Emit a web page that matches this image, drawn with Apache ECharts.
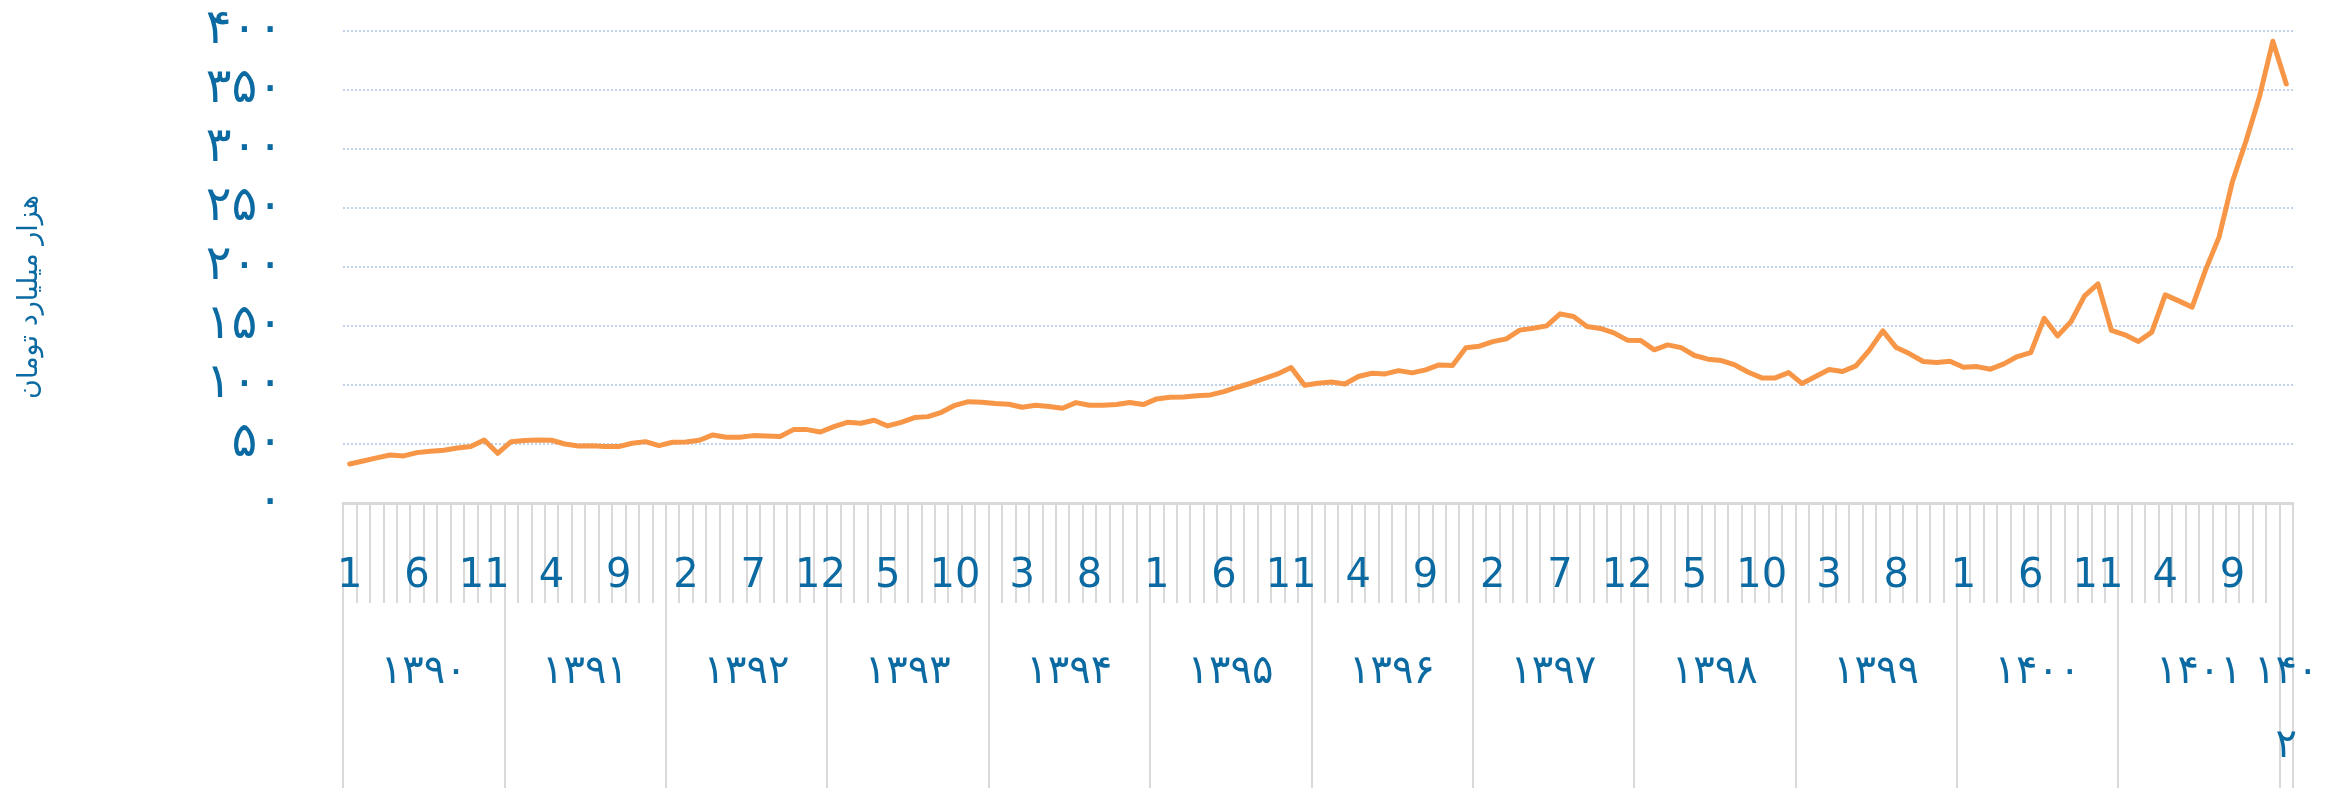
<!doctype html>
<html lang="fa">
<head>
	<meta charset="utf-8" />
	<title>Chart</title>
	<script src="https://cdn.jsdelivr.net/npm/echarts@6.0.0/dist/echarts.min.js"></script>
	<style>
		html, body { margin: 0; padding: 0; background: #fff; }
		#main { width: 2341px; height: 788px; }
	</style>
</head>
<body>
	<div id="main"></div>
	<script>
		// years on the second axis row and how many months each one has in the chart
		var yearLabels = ['۱۳۹۰', '۱۳۹۱', '۱۳۹۲', '۱۳۹۳', '۱۳۹۴', '۱۳۹۵', '۱۳۹۶',
			'۱۳۹۷', '۱۳۹۸', '۱۳۹۹', '۱۴۰۰', '۱۴۰۱', '۱۴۰۲'];
		var monthsPerYear = [12, 12, 12, 12, 12, 12, 12, 12, 12, 12, 12, 12, 1];

		var yTicks = [0, 50, 100, 150, 200, 250, 300, 350, 400];
		var yName = 'هزار میلیارد تومان';

		// monthly values, thousand billion toman
		var y1390 = [33.1, 35.6, 38.2, 40.7, 39.9, 42.7, 43.8, 44.7, 46.6, 47.8, 53.4, 42.1];
		var y1391 = [52.0, 52.9, 53.4, 53.2, 50.0, 48.3, 48.6, 47.8, 47.8, 50.6, 52.0, 48.6];
		var y1392 = [51.5, 51.7, 53.2, 57.7, 55.7, 55.7, 57.1, 56.8, 56.3, 62.2, 62.2, 60.2];
		var y1393 = [64.7, 68.4, 67.6, 70.1, 65.3, 68.4, 72.4, 73.2, 76.9, 82.8, 85.9, 85.4];
		var y1394 = [84.3, 83.7, 81.1, 82.8, 81.7, 80.3, 85.1, 82.8, 82.8, 83.4, 85.1, 83.4];
		var y1395 = [88.2, 89.6, 89.9, 90.8, 91.6, 94.4, 98.1, 101.5, 105.5, 109.4, 114.8, 99.8];
		var y1396 = [101.5, 102.6, 100.9, 107.2, 110.0, 109.4, 112.2, 110.3, 112.8, 117.0, 116.5, 131.5];
		var y1397 = [132.9, 136.8, 139.1, 146.5, 148.1, 150.1, 160.3, 158.0, 149.6, 147.9, 144.2, 138.0];
		var y1398 = [137.7, 129.8, 134.0, 131.7, 125.0, 121.9, 120.7, 117.0, 110.8, 106.0, 106.0, 110.5];
		var y1399 = [101.2, 107.2, 113.1, 111.4, 116.2, 129.5, 145.9, 131.7, 126.4, 119.9, 119.0, 120.2];
		var y1400 = [115.1, 115.6, 113.4, 117.9, 124.1, 127.5, 156.6, 141.6, 153.8, 175.6, 185.7, 146.2];
		var y1401 = [142.5, 136.8, 144.8, 176.4, 171.3, 166.0, 197.6, 225.3, 272.5, 306.5, 344.1, 391.3];
		var y1402 = [355.1];

		var values = [].concat(y1390, y1391, y1392, y1393, y1394, y1395, y1396,
			y1397, y1398, y1399, y1400, y1401, y1402);

		var blue = '#0b6aa2';
		var gray = '#d9d9d9';

		function toPersian(s) {
			return String(s).replace(/[0-9]/g, function (d) {
				return '۰۱۲۳۴۵۶۷۸۹'[+d];
			});
		}

		// month categories and year boundaries / centres
		var months = [];
		var yearEdges = [0];
		var yearCenters = [];
		var pos = 0;
		monthsPerYear.forEach(function (n) {
			for (var m = 1; m <= n; m++) months.push(String(m));
			yearCenters.push(pos + n / 2);
			pos += n;
			yearEdges.push(pos);
		});

		var chart = echarts.init(document.getElementById('main'));
		chart.setOption({
			animation: false,
			grid: {
				left: 343,
				right: 48,
				top: 31,
				bottom: 285,
				containLabel: false,
				outerBoundsMode: 'none'
			},
			graphic: [{
				type: 'text',
				x: 30,
				y: 297,
				rotation: Math.PI / 2,
				style: {
					text: yName,
					fill: blue,
					font: '27px "DejaVu Sans"',
					align: 'center',
					verticalAlign: 'middle'
				}
			}],
			xAxis: [{
				type: 'category',
				data: months,
				boundaryGap: true,
				position: 'bottom',
				axisLine: { show: true, lineStyle: { color: gray, width: 3 } },
				axisTick: {
					show: true,
					interval: 0,
					length: 100,
					lineStyle: { color: gray, width: 2 }
				},
				axisLabel: {
					interval: 4,
					margin: 54,
					color: blue,
					fontSize: 40,
					lineHeight: 40,
					fontFamily: 'DejaVu Sans'
				},
				splitLine: { show: false }
			}, {
				type: 'value',
				min: 0,
				max: values.length,
				position: 'bottom',
				axisLine: { show: false },
				axisTick: {
					show: true,
					customValues: yearEdges,
					length: 285,
					lineStyle: { color: gray, width: 2 }
				},
				axisLabel: {
					customValues: yearCenters,
					margin: 133,
					color: blue,
					fontSize: 40,
					lineHeight: 74,
					fontFamily: 'DejaVu Sans',
					formatter: function (v) {
						var i = yearCenters.indexOf(v);
						var t = yearLabels[i];
						if (monthsPerYear[i] < 12) t = t.slice(0, 3) + '\n' + t.slice(3);
						return t;
					}
				},
				splitLine: { show: false }
			}],
			yAxis: {
				type: 'value',
				min: yTicks[0],
				max: yTicks[yTicks.length - 1],
				interval: 50,
				axisLine: { show: false },
				axisTick: { show: false },
				axisLabel: {
					margin: 60,
					color: blue,
					fontSize: 48,
					fontFamily: 'DejaVu Sans',
					formatter: function (v) { return toPersian(v); }
				},
				splitLine: {
					show: true,
					lineStyle: { color: '#bfd3ee', width: 2, type: [2, 2] }
				}
			},
			series: [{
				type: 'line',
				data: values,
				xAxisIndex: 0,
				yAxisIndex: 0,
				symbol: 'none',
				lineStyle: { color: '#f79646', width: 5, cap: 'round', join: 'round' }
			}]
		});
	</script>
</body>
</html>
